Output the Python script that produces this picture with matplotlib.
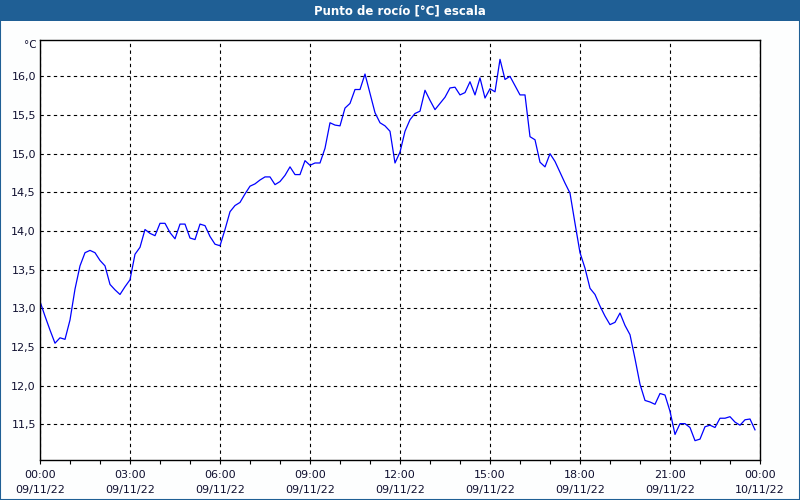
import matplotlib
matplotlib.use("Agg")
import matplotlib.pyplot as plt
import matplotlib.dates as mdates
from matplotlib.patches import Rectangle
from matplotlib.ticker import FuncFormatter, MultipleLocator
import pandas as pd

# dew point every 10 minutes, 09/11/22 00:00 .. 23:50
dew_point = [
    13.09, 12.90, 12.72, 12.55, 12.62, 12.60,
    12.85, 13.25, 13.55, 13.72, 13.75, 13.72,
    13.62, 13.55, 13.31, 13.24, 13.18, 13.28,
    13.37, 13.70, 13.79, 14.02, 13.97, 13.94,
    14.10, 14.10, 13.98, 13.90, 14.09, 14.09,
    13.91, 13.89, 14.09, 14.07, 13.93, 13.83,
    13.81, 14.02, 14.25, 14.33, 14.37, 14.48,
    14.58, 14.61, 14.66, 14.70, 14.70, 14.60,
    14.64, 14.72, 14.83, 14.73, 14.73, 14.91,
    14.85, 14.88, 14.88, 15.07, 15.40, 15.37,
    15.36, 15.59, 15.65, 15.83, 15.83, 16.03,
    15.78, 15.53, 15.40, 15.36, 15.29, 14.88,
    15.02, 15.29, 15.44, 15.52, 15.55, 15.82,
    15.69, 15.57, 15.65, 15.73, 15.85, 15.86,
    15.76, 15.79, 15.93, 15.76, 15.98, 15.72,
    15.84, 15.80, 16.22, 15.96, 16.00, 15.88,
    15.76, 15.76, 15.22, 15.18, 14.89, 14.83,
    15.00, 14.90, 14.76, 14.62, 14.49, 14.10,
    13.72, 13.52, 13.26, 13.18, 13.03, 12.90,
    12.79, 12.82, 12.94, 12.78, 12.66, 12.35,
    12.02, 11.81, 11.79, 11.76, 11.90, 11.88,
    11.67, 11.37, 11.51, 11.51, 11.46, 11.29,
    11.31, 11.47, 11.49, 11.46, 11.58, 11.58,
    11.60, 11.53, 11.49, 11.56, 11.57, 11.43,
]
times = pd.date_range("2022-11-09 00:00", periods=len(dew_point), freq="10min")
start = pd.Timestamp("2022-11-09 00:00")
end = pd.Timestamp("2022-11-10 00:00")

title = "Punto de rocío [°C] escala"
unit = "°C"
bar_color = "#1f5f95"

plt.rcParams["font.family"] = ["DejaVu Sans"]

fig = plt.figure(figsize=(8, 5), dpi=100)
fig.patch.set_facecolor("#fdfefe")

# title bar and window frame
fig.patches.append(Rectangle((0, 0.958), 1, 0.042, transform=fig.transFigure,
                             facecolor=bar_color, edgecolor="none", zorder=0))
fig.patches.append(Rectangle((0.0006, 0.001), 0.9988, 0.998, transform=fig.transFigure,
                             facecolor="none", edgecolor=bar_color, linewidth=1.5, zorder=1))
fig.text(0.5, 0.979, title, color="white", fontsize=8.5, fontweight="bold",
         ha="center", va="center")

ax = fig.add_axes([0.05, 0.08, 0.90, 0.84])
ax.set_facecolor("white")
ax.plot(times, dew_point, color="#0000ff", linewidth=0.9)

ax.set_xlim(start, end)
ax.set_ylim(11.04, 16.47)

ax.xaxis.set_major_locator(mdates.HourLocator(byhour=range(0, 24, 3)))
ax.xaxis.set_minor_locator(mdates.HourLocator())
ax.xaxis.set_major_formatter(mdates.DateFormatter("%H:%M\n%d/%m/%y"))
ax.yaxis.set_major_locator(MultipleLocator(0.5))
ax.yaxis.set_major_formatter(FuncFormatter(lambda v, p: f"{v:.1f}".replace(".", ",")))

ax.grid(True, which="major", color="black", linestyle=(0, (3, 3)), linewidth=0.8)
ax.tick_params(axis="x", which="both", direction="out", length=3, width=0.8,
               labelsize=8, pad=4, labelcolor="#101030")
ax.tick_params(axis="y", length=0, labelsize=8, pad=3, labelcolor="#101030")
for lab in ax.get_xticklabels():
    lab.set_linespacing(1.6)
for s in ax.spines.values():
    s.set_color("black")
    s.set_linewidth(1)

ax.text(-0.004, 1.0, unit, transform=ax.transAxes, ha="right", va="top", fontsize=7.5,
        color="#101030")

fig.savefig("out.png", dpi=100, facecolor=fig.get_facecolor())
